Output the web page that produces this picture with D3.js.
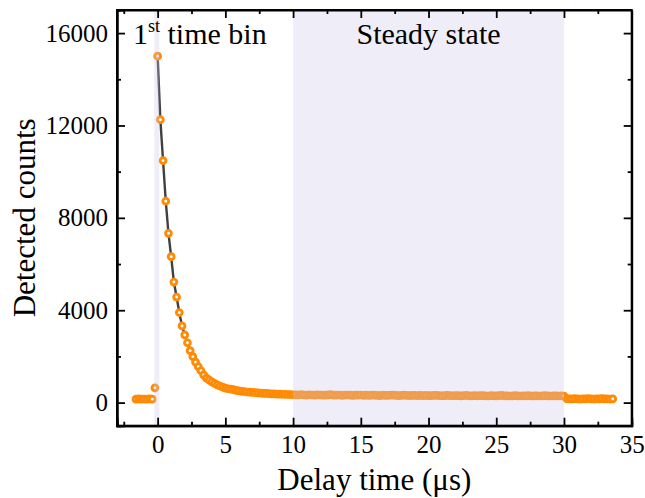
<!DOCTYPE html>
<html>
<head>
<meta charset="utf-8">
<script src="https://cdn.jsdelivr.net/npm/d3@7"></script>
<style>
  body { margin: 0; background: #fff; }
  text { font-family: "Liberation Serif", "Times New Roman", serif; fill: #000; }
</style>
</head>
<body>
<div id="chart"></div>
<script>
// time bins: first bin at -1.6 us, 0.2 us per bin
const startTime = -1.6;
const binWidth = 0.2;

// detected counts per bin
const preTrigger = [150, 160, 150, 155, 150, 160, 150, 640];
const decay = [15000, 12250, 10480, 8720, 7330, 6320, 5220, 4570, 3900, 3320,
  2930, 2590, 2250, 1990, 1750, 1560, 1380, 1200, 1060, 980,
  900, 830, 770, 720, 670, 630, 600, 580, 560, 530,
  510, 490, 480, 460, 450, 440, 430, 420, 410, 400,
  400, 390, 380, 380, 370, 370, 360, 360, 350, 350];
const steady = [340, 335, 330, 345, 330, 325, 340, 330, 320, 335,
  330, 325, 320, 335, 345, 325, 320, 330, 315, 325,
  330, 320, 315, 325, 320, 330, 310, 320, 315, 325,
  320, 310, 305, 320, 315, 310, 320, 325, 310, 305,
  315, 320, 310, 300, 315, 310, 305, 315, 300, 310,
  305, 300, 310, 315, 300, 295, 305, 310, 300, 295,
  305, 300, 290, 300, 310, 295, 290, 300, 295, 305,
  300, 290, 285, 300, 295, 290, 300, 310, 295, 290,
  285, 295, 300, 290, 285, 295, 290, 300, 285, 290,
  295, 285, 290, 300, 290, 285, 295, 290, 285, 290, 280];
const tail = [170, 165, 160, 170, 160, 155, 165, 160, 170, 160,
  155, 165, 160, 170, 160, 165, 155, 160];

const counts = preTrigger.concat(decay, steady, tail);
const points = counts.map((c, i) => ({t: +(startTime + i * binWidth).toFixed(2), c: c}));
const fitPoints = points.filter(d => d.t >= 0);

const xTicks = [0, 5, 10, 15, 20, 25, 30, 35];
const yTicks = [0, 4000, 8000, 12000, 16000];
const firstBin = [-0.25, 0.13];
const steadyWindow = [10, 30];

const width = 645, height = 498;
const margin = {top: 10, right: 13.3, bottom: 72.3, left: 117};

const svg = d3.select("#chart").append("svg")
  .attr("width", width)
  .attr("height", height);

const x = d3.scaleLinear().domain([-3, 35]).range([margin.left, width - margin.right]);
const y = d3.scaleLinear().domain([-1000, 17000]).range([height - margin.bottom, margin.top]);

const orange = "#ff8a05";

// fit line
svg.append("path")
  .datum(fitPoints)
  .attr("fill", "none")
  .attr("stroke", "#404040")
  .attr("stroke-width", 2.4)
  .attr("d", d3.line().x(d => x(d.t)).y(d => y(d.c)));

// data points
svg.append("g").selectAll("circle")
  .data(points)
  .enter().append("circle")
  .attr("cx", d => x(d.t))
  .attr("cy", d => y(d.c))
  .attr("r", 2.9)
  .attr("fill", "#fff")
  .attr("stroke", orange)
  .attr("stroke-width", 2.9);

// shaded windows (drawn over the data, translucent)
[firstBin, steadyWindow].forEach(w => {
  svg.append("rect")
    .attr("x", x(w[0]))
    .attr("y", margin.top)
    .attr("width", x(w[1]) - x(w[0]))
    .attr("height", y.range()[0] - margin.top)
    .attr("fill", "rgb(205,198,232)")
    .attr("opacity", 0.32);
});

// axes
const bottomY = height - margin.bottom;
const rightX = width - margin.right;

svg.append("g")
  .attr("transform", `translate(0,${bottomY})`)
  .call(d3.axisBottom(x).tickValues(d3.range(-2.5, 35, 2.5).filter(v => v % 5 != 0)).tickSize(-4).tickFormat(""));
svg.append("g")
  .attr("class", "xaxis")
  .attr("transform", `translate(0,${bottomY})`)
  .call(d3.axisBottom(x).tickValues(xTicks).tickSize(-8).tickPadding(10));
svg.append("g")
  .attr("transform", `translate(0,${margin.top})`)
  .call(d3.axisTop(x).tickValues(d3.range(-2.5, 35, 2.5)).tickSize(0).tickFormat(""))
  .call(g => g.selectAll(".tick line").attr("y2", d => d % 5 == 0 ? 8 : 4));

svg.append("g")
  .attr("transform", `translate(${margin.left},0)`)
  .call(d3.axisLeft(y).tickValues([2000, 6000, 10000, 14000]).tickSize(-4).tickFormat(""));
svg.append("g")
  .attr("class", "yaxis")
  .attr("transform", `translate(${margin.left},0)`)
  .call(d3.axisLeft(y).tickValues(yTicks).tickSize(-8).tickPadding(9).tickFormat(d3.format("d")));
svg.append("g")
  .attr("transform", `translate(${rightX},0)`)
  .call(d3.axisRight(y).tickValues(d3.range(0, 17000, 2000)).tickSize(0).tickFormat(""))
  .call(g => g.selectAll(".tick line").attr("x2", d => d % 4000 == 0 ? -8 : -4));

svg.selectAll(".domain").attr("stroke", "#000").attr("stroke-width", 2);
svg.selectAll(".tick line").attr("stroke", "#000").attr("stroke-width", 1.8);
svg.selectAll(".xaxis text, .yaxis text")
  .style("font-family", "'Liberation Serif', serif")
  .style("font-size", "25px")
  .attr("fill", "#000");

// frame
svg.append("rect")
  .attr("x", margin.left).attr("y", margin.top)
  .attr("width", rightX - margin.left).attr("height", bottomY - margin.top)
  .attr("fill", "none").attr("stroke", "#000").attr("stroke-width", 2);

// labels
const binLabel = svg.append("text")
  .attr("x", 133).attr("y", 44)
  .style("font-size", "30px");
binLabel.append("tspan").text("1");
binLabel.append("tspan").attr("dy", -12).style("font-size", "18px").text("st");
binLabel.append("tspan").attr("dy", 12).text(" time bin");

svg.append("text")
  .attr("x", (x(10) + x(30)) / 2).attr("y", 44)
  .attr("text-anchor", "middle")
  .style("font-size", "30px")
  .text("Steady state");

svg.append("text")
  .attr("x", (margin.left + rightX) / 2).attr("y", 490)
  .attr("text-anchor", "middle")
  .style("font-size", "31px")
  .text("Delay time (μs)");

svg.append("text")
  .attr("transform", `translate(35,${(margin.top + bottomY) / 2}) rotate(-90)`)
  .attr("text-anchor", "middle")
  .style("font-size", "31px")
  .text("Detected counts");
</script>
</body>
</html>
